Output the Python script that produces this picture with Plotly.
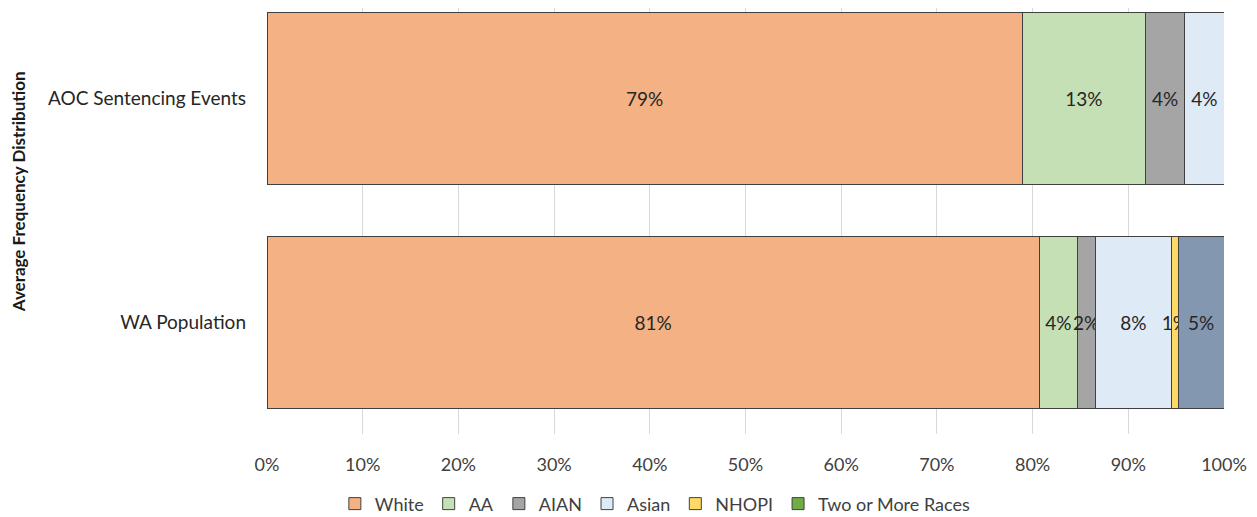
import plotly.graph_objects as go

categories = ["AOC Sentencing Events", "WA Population"]
series_names = ["White", "AA", "AIAN", "Asian", "NHOPI", "Two or More Races"]
white = [78.9, 80.7]
aa = [12.9, 3.97]
aian = [4.1, 1.85]
asian = [4.1, 8.0]
nhopi = [None, 0.7]
two_or_more = [None, None]
other = [None, 4.8]  # segment drawn in slate, not listed in legend

colors = ["#F4B183", "#C5E0B4", "#A5A5A5", "#DEEBF7", "#FFD966", "#70AD47"]
other_color = "#8497B0"

font_family = "Lato, Open Sans, sans-serif"
label_size = 19

fig = go.Figure()
all_series = [white, aa, aian, asian, nhopi, two_or_more]
for name, vals, col in zip(series_names, all_series, colors):
    fig.add_trace(go.Bar(
        y=categories, x=vals, name=name, orientation="h",
        marker=dict(color=col, line=dict(color="#404040", width=1)),
        text=[("%.0f%%" % v) if v is not None else "" for v in vals],
        textposition="inside", insidetextanchor="middle", textangle=0,
        constraintext="none",
        textfont=dict(color="#262626", size=label_size, family=font_family),
        hoverinfo="x+name",
    ))
fig.add_trace(go.Bar(
    y=categories, x=other, name="Other", orientation="h", showlegend=False,
    marker=dict(color=other_color, line=dict(color="#404040", width=1)),
    text=[("%.0f%%" % v) if v is not None else "" for v in other],
    textposition="inside", insidetextanchor="middle", textangle=0,
    constraintext="none",
    textfont=dict(color="#262626", size=label_size, family=font_family),
))

fig.update_layout(
    barmode="stack",
    bargap=0.232,
    width=1257, height=517,
    margin=dict(l=259, r=41, t=0, b=91),
    plot_bgcolor="white", paper_bgcolor="white",
    font=dict(family=font_family, color="#262626", size=18),
    uniformtext=dict(minsize=label_size, mode="show"),
    xaxis=dict(
        range=[0, 100], dtick=10, ticksuffix="%",
        showgrid=True, gridcolor="#D9D9D9", gridwidth=1,
        zeroline=False, showline=False,
        tickfont=dict(size=18, color="#404040"),
        ticks="", ticklabelstandoff=18,
    ),
    yaxis=dict(
        categoryorder="array", categoryarray=categories,
        range=[1.5, -0.402],
        showgrid=False, zeroline=False, showline=False,
        tickfont=dict(size=19, color="#262626"),
        ticks="", ticklabelstandoff=20,
    ),
    legend=dict(
        orientation="h", xref="container", yref="container",
        x=0.515, xanchor="center", y=0.005, yanchor="bottom",
        font=dict(size=18, color="#404040"),
        traceorder="normal", itemwidth=30,
    ),
    annotations=[dict(
        text="Average Frequency Distribution",
        xref="paper", yref="paper", x=-0.26, y=0.568,
        xanchor="center", yanchor="middle", textangle=-90,
        showarrow=False,
        font=dict(size=17, color="#1a1a1a", family=font_family, weight="bold"),
    )],
)

fig.write_html("out.html")
